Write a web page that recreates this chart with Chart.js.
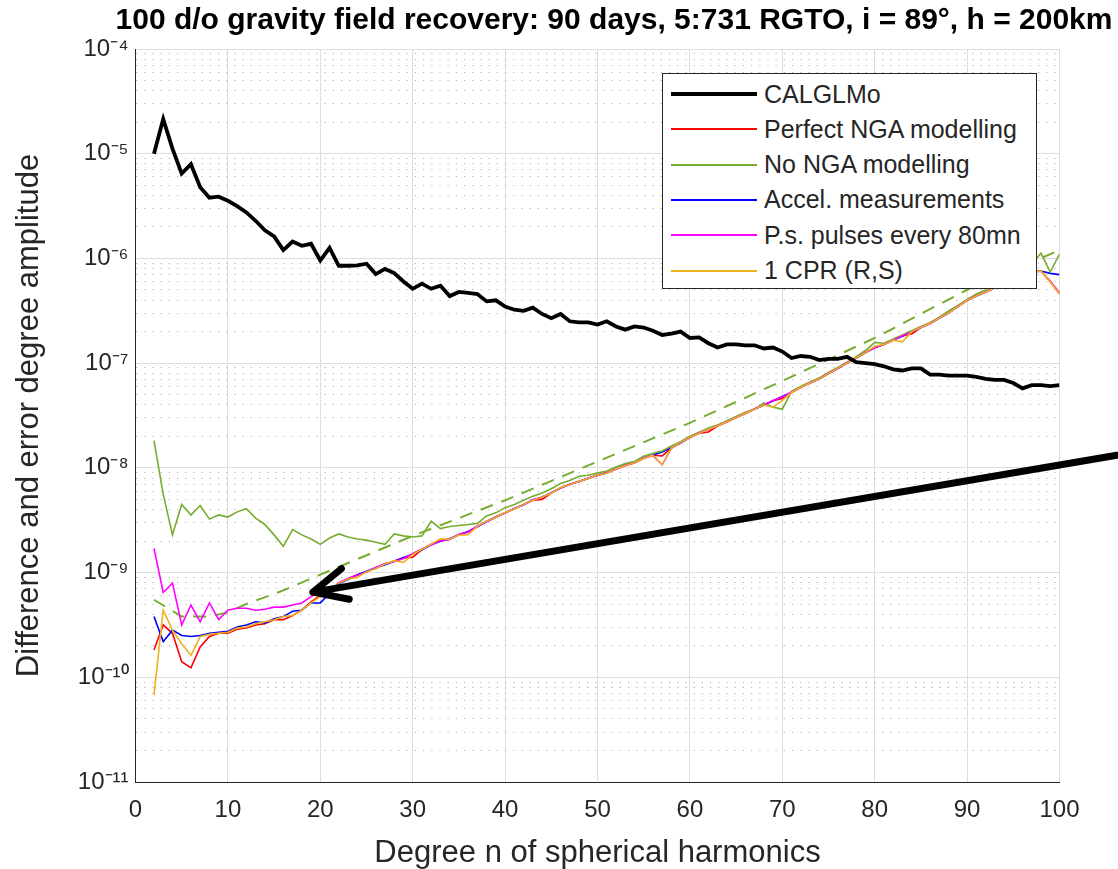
<!DOCTYPE html>
<html>
<head>
<meta charset="utf-8">
<script src="https://cdn.jsdelivr.net/npm/chart.js@4.4.1/dist/chart.umd.min.js"></script>
<style>
  html, body { margin: 0; padding: 0; background: #fff; overflow: hidden; }
  #wrap { position: relative; width: 1118px; height: 869px; }
  #title { position: absolute; left: 0; top: 2px; width: 1228px; text-align: center;
           font: bold 30px "Liberation Sans", Arial, sans-serif; color: #000; white-space: nowrap; }
  #legend { position: absolute; left: 662px; top: 73px; width: 375px; height: 216px; box-sizing: border-box;
            border: 1.5px solid #262626; background: #fff; font: 25px "Liberation Sans", Arial, sans-serif; color: #262626; }
  .row { position: absolute; left: 8px; height: 30px; display: flex; align-items: center; white-space: nowrap; }
  .sw { width: 86px; margin-right: 7px; }
</style>
</head>
<body>
<div id="wrap">
  <canvas id="chart" width="1118" height="869"></canvas>
  <div id="title">100 d/o gravity field recovery: 90 days, 5:731 RGTO, i = 89°, h = 200km</div>
  <div id="legend"></div>
</div>
<script>
// degree n of the spherical harmonics (x categories)
const degrees = Array.from({length: 99}, (_, i) => i + 2);

const calglmo = [
  1.0e-5, 2.14e-5, 1.12e-5, 6.46e-6, 7.94e-6, 4.79e-6, 3.80e-6, 3.89e-6, 3.55e-6, 3.16e-6,
  2.75e-6, 2.29e-6, 1.86e-6, 1.62e-6, 1.20e-6, 1.45e-6, 1.32e-6, 1.38e-6, 9.55e-7, 1.26e-6,
  8.51e-7, 8.51e-7, 8.6e-7, 8.9e-7, 7.08e-7, 7.94e-7, 7.24e-7, 6.03e-7, 5.13e-7, 5.75e-7,
  5.13e-7, 5.50e-7, 4.37e-7, 4.79e-7, 4.68e-7, 4.57e-7, 3.89e-7, 3.98e-7, 3.47e-7, 3.24e-7,
  3.16e-7, 3.39e-7, 2.95e-7, 2.69e-7, 2.95e-7, 2.51e-7, 2.45e-7, 2.45e-7, 2.34e-7, 2.51e-7,
  2.24e-7, 2.09e-7, 2.24e-7, 2.19e-7, 2.04e-7, 1.86e-7, 1.91e-7, 2.00e-7, 1.74e-7, 1.76e-7,
  1.55e-7, 1.41e-7, 1.51e-7, 1.51e-7, 1.48e-7, 1.48e-7, 1.38e-7, 1.41e-7, 1.29e-7, 1.12e-7,
  1.17e-7, 1.15e-7, 1.07e-7, 1.10e-7, 1.10e-7, 1.15e-7, 1.02e-7, 1.00e-7, 9.77e-8, 9.33e-8,
  8.71e-8, 8.51e-8, 8.91e-8, 8.91e-8, 7.76e-8, 7.76e-8, 7.59e-8, 7.59e-8, 7.59e-8, 7.41e-8,
  7.08e-8, 6.92e-8, 6.92e-8, 6.46e-8, 5.75e-8, 6.17e-8, 6.17e-8, 6.03e-8, 6.17e-8
];

const perfectNga = [
  1.82e-10, 3.16e-10, 2.63e-10, 1.41e-10, 1.23e-10, 1.95e-10, 2.45e-10, 2.63e-10, 2.63e-10, 2.88e-10,
  2.95e-10, 3.16e-10, 3.24e-10, 3.55e-10, 3.55e-10, 3.89e-10, 4.37e-10, 5.25e-10, 6.03e-10, 6.46e-10,
  7.94e-10, 8.71e-10, 9.55e-10, 1.02e-9, 1.10e-9, 1.20e-9, 1.29e-9, 1.38e-9, 1.40e-9, 1.66e-9,
  1.86e-9, 2.00e-9, 2.09e-9, 2.29e-9, 2.45e-9, 2.75e-9, 3.09e-9, 3.39e-9, 3.72e-9, 4.07e-9,
  4.47e-9, 4.90e-9, 5.00e-9, 5.75e-9, 6.46e-9, 6.92e-9, 7.41e-9, 7.94e-9, 8.51e-9, 8.91e-9,
  9.77e-9, 1.05e-8, 1.12e-8, 1.23e-8, 1.32e-8, 1.30e-8, 1.55e-8, 1.74e-8, 1.95e-8, 2.14e-8,
  2.20e-8, 2.51e-8, 2.75e-8, 3.02e-8, 3.31e-8, 3.63e-8, 3.98e-8, 4.37e-8, 4.60e-8, 5.25e-8,
  5.89e-8, 6.46e-8, 7.08e-8, 7.94e-8, 8.91e-8, 1.00e-7, 1.12e-7, 1.26e-7, 1.41e-7, 1.51e-7,
  1.66e-7, 1.82e-7, 1.90e-7, 2.19e-7, 2.40e-7, 2.69e-7, 3.02e-7, 3.47e-7, 3.98e-7, 4.37e-7,
  4.79e-7, 5.25e-7, 5.75e-7, 6.31e-7, 6.92e-7, 7.41e-7, 7.59e-7, 6.00e-7, 4.60e-7
];

const noNga = [
  1.82e-8, 5.62e-9, 2.29e-9, 4.47e-9, 3.55e-9, 4.37e-9, 3.24e-9, 3.55e-9, 3.39e-9, 3.80e-9,
  4.07e-9, 3.31e-9, 2.88e-9, 2.29e-9, 1.78e-9, 2.57e-9, 2.29e-9, 2.09e-9, 1.86e-9, 2.14e-9,
  2.34e-9, 2.19e-9, 2.09e-9, 2.04e-9, 1.95e-9, 1.86e-9, 2.34e-9, 2.24e-9, 2.19e-9, 2.24e-9,
  3.09e-9, 2.63e-9, 2.75e-9, 2.82e-9, 2.88e-9, 2.95e-9, 3.47e-9, 3.72e-9, 4.17e-9, 4.47e-9,
  4.90e-9, 5.37e-9, 5.75e-9, 6.31e-9, 7.08e-9, 7.59e-9, 8.32e-9, 8.51e-9, 8.91e-9, 9.33e-9,
  1.02e-8, 1.10e-8, 1.15e-8, 1.29e-8, 1.38e-8, 1.45e-8, 1.62e-8, 1.78e-8, 2.00e-8, 2.19e-8,
  2.40e-8, 2.57e-8, 2.82e-8, 3.09e-8, 3.39e-8, 3.63e-8, 4.17e-8, 3.80e-8, 3.63e-8, 5.37e-8,
  6.03e-8, 6.61e-8, 7.24e-8, 8.13e-8, 9.12e-8, 1.02e-7, 1.15e-7, 1.32e-7, 1.58e-7, 1.55e-7,
  1.70e-7, 1.86e-7, 2.04e-7, 2.24e-7, 2.45e-7, 2.75e-7, 3.16e-7, 3.55e-7, 4.07e-7, 4.57e-7,
  5.01e-7, 5.62e-7, 6.17e-7, 6.92e-7, 7.59e-7, 8.91e-7, 1.12e-6, 7.41e-7, 1.10e-6
];

const accel = [
  3.80e-10, 2.19e-10, 2.82e-10, 2.51e-10, 2.45e-10, 2.51e-10, 2.63e-10, 2.69e-10, 2.75e-10, 3.02e-10,
  3.16e-10, 3.39e-10, 3.31e-10, 3.63e-10, 3.80e-10, 4.27e-10, 4.37e-10, 5.13e-10, 5.13e-10, 6.31e-10,
  7.80e-10, 8.60e-10, 9.50e-10, 1.03e-9, 1.11e-9, 1.19e-9, 1.28e-9, 1.39e-9, 1.50e-9, 1.65e-9,
  1.84e-9, 1.99e-9, 2.10e-9, 2.30e-9, 2.47e-9, 2.74e-9, 3.07e-9, 3.38e-9, 3.73e-9, 4.08e-9,
  4.45e-9, 4.92e-9, 5.28e-9, 5.77e-9, 6.42e-9, 6.95e-9, 7.45e-9, 7.92e-9, 8.55e-9, 8.95e-9,
  9.80e-9, 1.06e-8, 1.13e-8, 1.24e-8, 1.33e-8, 1.42e-8, 1.56e-8, 1.73e-8, 1.96e-8, 2.15e-8,
  2.35e-8, 2.52e-8, 2.76e-8, 3.03e-8, 3.32e-8, 3.64e-8, 3.99e-8, 4.38e-8, 4.80e-8, 5.26e-8,
  5.90e-8, 6.47e-8, 7.09e-8, 7.95e-8, 8.92e-8, 1.00e-7, 1.12e-7, 1.26e-7, 1.41e-7, 1.51e-7,
  1.66e-7, 1.82e-7, 2.00e-7, 2.19e-7, 2.40e-7, 2.69e-7, 3.02e-7, 3.47e-7, 3.98e-7, 4.37e-7,
  4.79e-7, 5.25e-7, 5.75e-7, 6.31e-7, 6.92e-7, 7.41e-7, 7.59e-7, 7.20e-7, 7.00e-7
];

const pulses = [
  1.70e-9, 6.46e-10, 7.94e-10, 3.16e-10, 4.90e-10, 3.39e-10, 5.13e-10, 3.55e-10, 4.37e-10, 4.57e-10,
  4.57e-10, 4.37e-10, 4.47e-10, 4.68e-10, 4.68e-10, 4.90e-10, 5.13e-10, 5.89e-10, 6.61e-10, 6.61e-10,
  8.00e-10, 8.80e-10, 9.40e-10, 1.01e-9, 1.12e-9, 1.22e-9, 1.27e-9, 1.36e-9, 1.52e-9, 1.68e-9,
  1.83e-9, 2.02e-9, 2.07e-9, 2.32e-9, 2.43e-9, 2.78e-9, 3.05e-9, 3.42e-9, 3.70e-9, 4.10e-9,
  4.43e-9, 4.95e-9, 5.20e-9, 5.80e-9, 6.40e-9, 7.00e-9, 7.35e-9, 8.00e-9, 8.45e-9, 9.00e-9,
  9.70e-9, 1.06e-8, 1.11e-8, 1.24e-8, 1.31e-8, 1.07e-8, 1.54e-8, 1.75e-8, 1.94e-8, 2.16e-8,
  2.33e-8, 2.53e-8, 2.74e-8, 3.05e-8, 3.30e-8, 3.66e-8, 3.97e-8, 4.40e-8, 4.75e-8, 5.30e-8,
  5.85e-8, 6.50e-8, 7.05e-8, 8.00e-8, 8.85e-8, 1.01e-7, 1.11e-7, 1.27e-7, 1.40e-7, 1.52e-7,
  1.65e-7, 1.83e-7, 1.98e-7, 2.20e-7, 2.38e-7, 2.70e-7, 3.00e-7, 3.49e-7, 3.96e-7, 4.40e-7,
  4.77e-7, 5.27e-7, 5.73e-7, 6.33e-7, 6.90e-7, 7.43e-7, 7.55e-7, 6.10e-7, 4.70e-7
];

const cpr = [
  6.76e-11, 4.37e-10, 2.82e-10, 2.09e-10, 1.62e-10, 2.45e-10, 2.57e-10, 2.63e-10, 2.69e-10, 2.95e-10,
  3.02e-10, 3.24e-10, 3.39e-10, 3.55e-10, 3.80e-10, 3.89e-10, 4.37e-10, 5.13e-10, 5.89e-10, 6.46e-10,
  7.90e-10, 8.70e-10, 9.00e-10, 1.02e-9, 1.09e-9, 1.21e-9, 1.30e-9, 1.25e-9, 1.49e-9, 1.67e-9,
  1.87e-9, 2.10e-9, 2.08e-9, 2.28e-9, 2.30e-9, 2.76e-9, 3.10e-9, 3.38e-9, 3.74e-9, 4.05e-9,
  4.48e-9, 4.88e-9, 5.26e-9, 5.73e-9, 6.48e-9, 6.90e-9, 7.43e-9, 7.92e-9, 8.53e-9, 8.89e-9,
  9.79e-9, 1.05e-8, 1.12e-8, 1.23e-8, 1.32e-8, 1.07e-8, 1.55e-8, 1.74e-8, 1.95e-8, 2.14e-8,
  2.34e-8, 2.51e-8, 2.75e-8, 3.02e-8, 3.31e-8, 3.63e-8, 3.98e-8, 3.80e-8, 4.40e-8, 5.25e-8,
  5.89e-8, 6.46e-8, 7.08e-8, 7.94e-8, 8.91e-8, 1.00e-7, 1.12e-7, 1.26e-7, 1.45e-7, 1.51e-7,
  1.66e-7, 1.60e-7, 2.00e-7, 2.19e-7, 2.40e-7, 2.69e-7, 3.02e-7, 3.47e-7, 3.98e-7, 4.37e-7,
  4.79e-7, 5.25e-7, 5.75e-7, 6.31e-7, 6.92e-7, 7.41e-7, 7.59e-7, 6.00e-7, 4.60e-7
];

// dashed green reference curve
const trendDegrees = [2, 5, 8, 10, 12, 16, 20, 30, 40, 50, 60, 70, 80, 90, 100];
const trendValues = [5.5e-10, 3.8e-10, 3.8e-10, 4.17e-10, 5.01e-10, 6.76e-10, 9.55e-10, 2.24e-9,
                     4.90e-9, 1.15e-8, 2.69e-8, 6.76e-8, 1.74e-7, 5.01e-7, 1.20e-6];

const xTicks = [0, 10, 20, 30, 40, 50, 60, 70, 80, 90, 100];

const seriesNames = ['CALGLMo', 'Perfect NGA modelling', 'No NGA modelling', 'Accel. measurements',
                     'P.s. pulses every 80mn', '1 CPR (R,S)'];
const seriesColors = ['#000000', '#ff0000', '#77ac30', '#0000ff', '#ff00ff', '#edb120'];

// arrow annotation (tail outside the axes, head on the curves)
const arrowTail = { x: 106.2, y: 1.32e-8 };
const arrowHead = { x: 19.2, y: 6.5e-10 };

const FONT = '"Liberation Sans", Arial, sans-serif';
const sup = { '-': '\u207B', '0': '\u2070', '1': '\u00B9', '2': '\u00B2', '3': '\u00B3', '4': '\u2074',
              '5': '\u2075', '6': '\u2076', '7': '\u2077', '8': '\u2078', '9': '\u2079' };

function isDecade(v) {
  const l = Math.log10(v);
  return Math.abs(l - Math.round(l)) < 1e-6;
}

// legend (html, drawn over the axes like matlab does)
const legendEl = document.getElementById('legend');
seriesNames.forEach((name, i) => {
  const row = document.createElement('div');
  row.className = 'row';
  row.style.top = (5 + i * 35.3) + 'px';
  const w = i === 0 ? 4 : 2;
  row.innerHTML = `<span class="sw" style="border-top:${w}px solid ${seriesColors[i]}"></span><span>${name}</span>`;
  legendEl.appendChild(row);
});

const arrowPlugin = {
  id: 'arrow',
  afterDraw(chart) {
    const { ctx, scales: { x, y } } = chart;
    const x1 = x.getPixelForValue(arrowTail.x), y1 = y.getPixelForValue(arrowTail.y);
    const x2 = x.getPixelForValue(arrowHead.x), y2 = y.getPixelForValue(arrowHead.y);
    const ang = Math.atan2(y1 - y2, x1 - x2);
    ctx.save();
    ctx.strokeStyle = '#000';
    ctx.lineWidth = 7;
    ctx.lineCap = 'round';
    ctx.lineJoin = 'round';
    ctx.beginPath();
    ctx.moveTo(x1, y1);
    ctx.lineTo(x2, y2);
    ctx.moveTo(x2 + 37 * Math.cos(ang - 0.52), y2 + 37 * Math.sin(ang - 0.52));
    ctx.lineTo(x2, y2);
    ctx.lineTo(x2 + 37 * Math.cos(ang + 0.36), y2 + 37 * Math.sin(ang + 0.36));
    ctx.stroke();
    ctx.restore();
  }
};

const lineSets = [calglmo, perfectNga, noNga, accel, pulses, cpr];
const drawOrder = [0, 5, 3, 4, 2, 1];
const datasets = lineSets.map((d, i) => ({
  label: seriesNames[i],
  data: d,
  borderColor: seriesColors[i],
  borderWidth: i === 0 ? 3.8 : 1.6,
  pointRadius: 0,
  tension: 0,
  order: drawOrder[i]
}));
datasets.push({
  label: 'trend',
  data: trendDegrees.map((n, i) => ({ x: n, y: trendValues[i] })),
  borderColor: seriesColors[2],
  borderWidth: 2,
  borderDash: [13, 9],
  pointRadius: 0,
  tension: 0,
  order: 6
});

new Chart(document.getElementById('chart'), {
  type: 'line',
  data: { labels: degrees, datasets },
  plugins: [arrowPlugin],
  options: {
    responsive: false,
    animation: false,
    layout: { padding: { top: 49, right: 58.5, left: 0, bottom: 0 } },
    plugins: { legend: { display: false }, tooltip: { enabled: false } },
    scales: {
      x: {
        type: 'linear',
        min: 0, max: 100,
        afterBuildTicks: s => { s.ticks = xTicks.map(v => ({ value: v })); },
        afterFit: s => { s.height = 87; },
        grid: { color: '#dedede', lineWidth: 1, drawTicks: false },
        border: { color: '#262626', width: 1 },
        ticks: { color: '#262626', padding: 13.6, maxRotation: 0, font: { family: FONT, size: 24 } },
        title: { display: true, text: 'Degree n of spherical harmonics', color: '#262626',
                 font: { family: FONT, size: 31, lineHeight: 1 }, padding: { top: 0, bottom: 0 } }
      },
      y: {
        type: 'logarithmic',
        min: 1e-11, max: 1e-4,
        afterBuildTicks: s => {
          s.ticks = s.ticks.filter(t => {
            const m = t.value / Math.pow(10, Math.floor(Math.log10(t.value) + 1e-9));
            return Math.abs(m - Math.round(m)) < 1e-6;
          });
        },
        afterFit: s => { s.width = 135.5; },
        grid: {
          color: c => (c.tick && !isDecade(c.tick.value)) ? '#b4b4b4' : '#dedede',
          lineWidth: 1,
          drawTicks: false
        },
        border: {
          color: '#262626', width: 1,
          dash: c => (c.tick && !isDecade(c.tick.value)) ? [1.2, 7] : []
        },
        ticks: {
          autoSkip: false,
          color: '#262626',
          padding: 7,
          font: { family: FONT, size: 24 },
          callback: v => isDecade(v) ? '10' + String(Math.round(Math.log10(v))).split('').map(c => sup[c]).join('') : ''
        },
        title: { display: true, text: 'Difference and error degree amplitude', color: '#262626',
                 font: { family: FONT, size: 31, lineHeight: 1 }, padding: { top: 14, bottom: 0 } }
      }
    }
  }
});
</script>
</body>
</html>
